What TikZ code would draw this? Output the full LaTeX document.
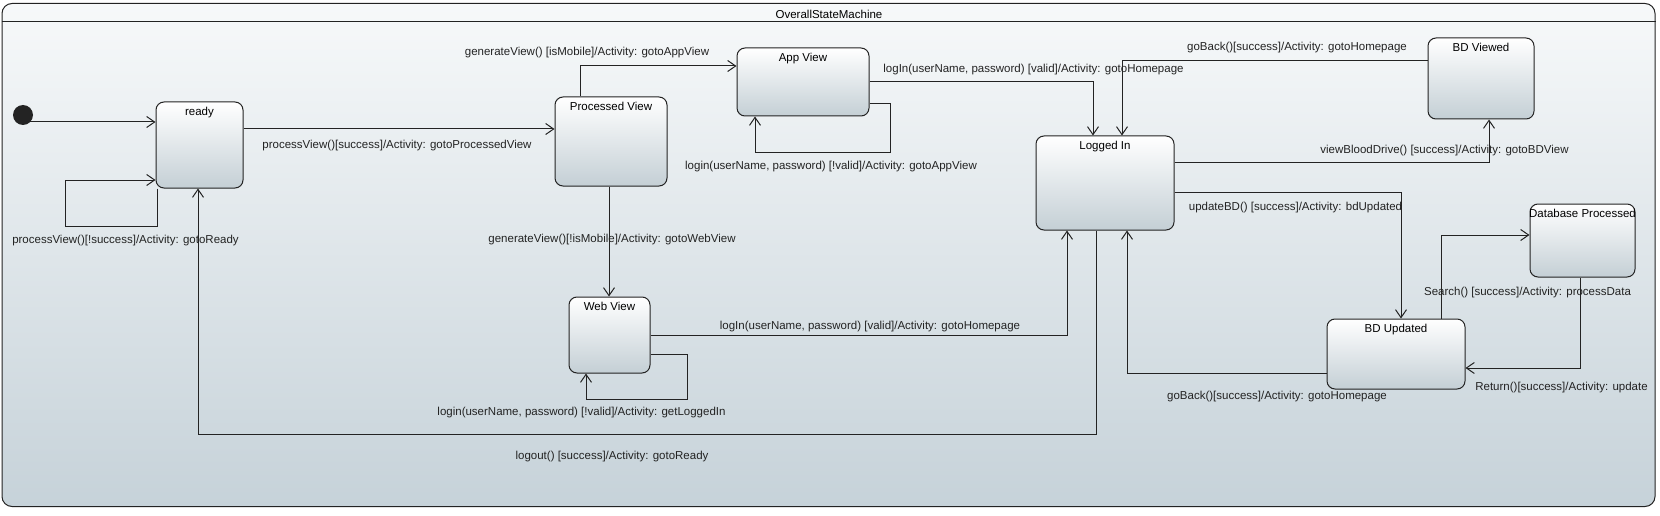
\documentclass[tikz,border=0pt]{standalone}
\usepackage{fontspec}
\setmainfont{Liberation Sans}
\usetikzlibrary{arrows.meta}
\definecolor{frameTop}{RGB}{247,249,250}
\definecolor{frameBot}{RGB}{198,210,217}
\definecolor{stateBot}{RGB}{196,207,213}
\definecolor{lineGray}{RGB}{35,35,35}
\begin{document}
\begin{tikzpicture}[x=1pt, y=-1pt,
    machine/.style={draw=lineGray, line width=1pt, rounded corners=10pt, top color=frameTop, bottom color=frameBot, inner sep=0pt},
    state/.style={draw=lineGray, line width=1pt, rounded corners=8pt, top color=white, bottom color=stateBot, inner sep=0pt},
    trans/.style={-{Straight Barb[length=8pt,width=11pt]}, line width=1pt, lineGray},
    lbl/.style={inner sep=0pt, font=\fontsize{11.5}{13}\selectfont}]
    \useasboundingbox (0,0) rectangle (1660,516);

    \node[machine, minimum width=1653pt, minimum height=503pt] (osm) at (828.5,255) {};
    \draw[line width=1pt, lineGray] (osm.west |- 0,22) -- (osm.east |- 0,22);
    \node[lbl] (title) at (829,14) {OverallStateMachine};

    \fill[lineGray] (23,115) circle (10);
    \coordinate (init) at (30,122);

    \node[state, minimum width=87pt, minimum height=86pt,
          label={[lbl, anchor=north, yshift=-5pt]north:ready}] (ready) at (199.5,145) {};
    \node[state, minimum width=112pt, minimum height=89pt,
          label={[lbl, anchor=north, yshift=-5pt]north:Processed View}] (pv) at (611,141.5) {};
    \node[state, minimum width=132pt, minimum height=68pt,
          label={[lbl, anchor=north, yshift=-5pt]north:App View}] (app) at (803,82) {};
    \node[state, minimum width=81pt, minimum height=76pt,
          label={[lbl, anchor=north, yshift=-5pt]north:Web View}] (web) at (609.5,335) {};
    \node[state, minimum width=138pt, minimum height=94pt,
          label={[lbl, anchor=north, yshift=-5pt]north:Logged In}] (logged) at (1105,183) {};
    \node[state, minimum width=106pt, minimum height=81pt,
          label={[lbl, anchor=north, yshift=-5pt]north:BD Viewed}] (bdv) at (1481,78.5) {};
    \node[state, minimum width=105pt, minimum height=73pt,
          label={[lbl, anchor=north, yshift=-5pt]north:Database Processed}] (dbp) at (1582.5,240.5) {};
    \node[state, minimum width=138pt, minimum height=70pt,
          label={[lbl, anchor=north, yshift=-5pt]north:BD Updated}] (bdu) at (1396,354) {};

    % ready
    \draw[trans] (init) -- (ready.west |- init);
    \draw[trans] ([xshift=2pt]ready.south west) -- ++(0,38) -| (65,180) -- (ready.west |- 0,180)
        node[lbl] at (125.5,241) {processView()[!success]/Activity: gotoReady};
    \draw[trans] (ready.east |- 0,129) -- (pv.west |- 0,129)
        node[lbl] at (397,146) {processView()[success]/Activity: gotoProcessedView};

    % processed view
    \draw[trans] (pv.north -| 580,0) |- (app.west |- 0,66)
        node[lbl] at (587,53) {generateView() [isMobile]/Activity: gotoAppView};
    \draw[trans] (pv.south -| 609,0) -- (web.north -| 609,0)
        node[lbl] at (612,240) {generateView()[!isMobile]/Activity: gotoWebView};

    % app view
    \draw[trans] (app.east |- 0,104) -| (890,153) -| (app.south -| 755,0)
        node[lbl] at (831,167) {login(userName, password) [!valid]/Activity: gotoAppView};
    \draw[trans] (app.east |- 0,82) -| (logged.north -| 1093,0)
        node[lbl] at (1033.5,70) {logIn(userName, password) [valid]/Activity: gotoHomepage};

    % web view
    \draw[trans] (web.east |- 0,335) -| (logged.south -| 1067,0)
        node[lbl] at (870,327) {logIn(userName, password) [valid]/Activity: gotoHomepage};
    \draw[trans] (web.east |- 0,354) -| (687,399) -| (web.south -| 586,0)
        node[lbl] at (581.5,413) {login(userName, password) [!valid]/Activity: getLoggedIn};

    % logged in
    \draw[trans] (logged.south -| 1096,0) |- (198,434) -- (ready.south -| 198,0)
        node[lbl] at (612,457) {logout() [success]/Activity: gotoReady};
    \draw[trans] (logged.east |- 0,163) -| (bdv.south -| 1489,0)
        node[lbl] at (1444.5,151) {viewBloodDrive() [success]/Activity: gotoBDView};
    \draw[trans] (logged.east |- 0,192) -| (bdu.north -| 1401,0)
        node[lbl] at (1295.5,208) {updateBD() [success]/Activity: bdUpdated};

    % bd viewed
    \draw[trans] (bdv.west |- 0,61) -| (logged.north -| 1122,0)
        node[lbl] at (1297,48) {goBack()[success]/Activity: gotoHomepage};

    % bd updated
    \draw[trans] (bdu.west |- 0,373) -| (logged.south -| 1127,0)
        node[lbl] at (1277,397) {goBack()[success]/Activity: gotoHomepage};
    \draw[trans] (bdu.north -| 1441,0) |- (dbp.west |- 0,235)
        node[lbl] at (1527.5,293) {Search() [success]/Activity: processData};
    \draw[trans] (dbp.south -| 1580,0) |- (bdu.east |- 0,368)
        node[lbl] at (1561.5,388) {Return()[success]/Activity: update};
\end{tikzpicture}
\end{document}
